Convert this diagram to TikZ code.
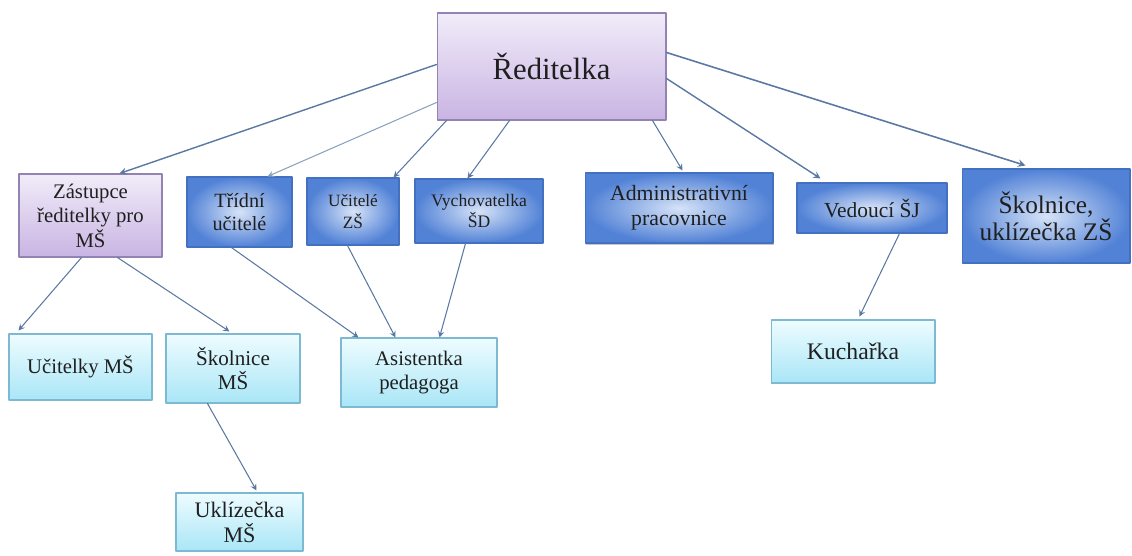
\documentclass[tikz,border=0pt]{standalone}
\usepackage{fontspec}
\setmainfont{Liberation Serif}
\usetikzlibrary{calc,shadows}
\definecolor{lila}{HTML}{C9B4E3}
\definecolor{lilatop}{HTML}{F1ECF9}
\definecolor{lilaline}{HTML}{9283B2}
\definecolor{modr}{HTML}{5282D6}
\definecolor{modrin}{HTML}{D6E3F8}
\definecolor{modrline}{HTML}{4470C2}
\definecolor{azur}{HTML}{A9E6F7}
\definecolor{azurtop}{HTML}{EEFCFF}
\definecolor{azurline}{HTML}{7DB9D0}
\definecolor{sipka}{HTML}{5A79A2}
\begin{document}
\begin{tikzpicture}[>=stealth,line join=round,line cap=round,x=0.02cm,y=-0.02cm,
	box/.style={draw,rectangle,align=center,inner sep=2pt,text=black!88,line width=.6pt},
	fial/.style={box,draw=lilaline,top color=lilatop,bottom color=lila},
	modr/.style={box,draw=modrline,inner color=modrin,outer color=modr},
	azur/.style={box,draw=azurline,top color=azurtop,bottom color=azur},
	spoj/.style={->,draw=sipka,line width=.6pt}
	]
	\useasboundingbox (0,0) rectangle (1132,555);
	% horni uroven
	\node[fial,minimum width=4.58cm,minimum height=2.14cm,font=\fontsize{17.5}{20}\selectfont] (red) at (551.5,66.5) {Ředitelka};
	% druha uroven
	\node[fial,minimum width=2.86cm,minimum height=1.66cm,font=\fontsize{11.8}{14}\selectfont] (zast) at (90.5,215.5) {Zástupce\\ředitelky pro\\MŠ};
	\node[modr,minimum width=2.10cm,minimum height=1.40cm,font=\fontsize{11.5}{13.5}\selectfont] (trid) at (239.5,212) {Třídní\\učitelé};
	\node[modr,minimum width=1.84cm,minimum height=1.34cm,font=\fontsize{9.8}{12.5}\selectfont] (ucit) at (353,211.5) {Učitelé\\ZŠ};
	\node[modr,minimum width=2.56cm,minimum height=1.28cm,font=\fontsize{10}{12.5}\selectfont] (vych) at (479,211) {Vychovatelka\\ŠD};
	\node[modr,minimum width=3.76cm,minimum height=1.40cm,font=\fontsize{12.4}{14.2}\selectfont,
		drop shadow={opacity=.45,shadow xshift=.4pt,shadow yshift=-1.3pt}] (admin) at (679,208) {Administrativní\\pracovnice};
	\node[modr,minimum width=3.00cm,minimum height=1.00cm,font=\fontsize{12.2}{14}\selectfont] (ved) at (872,208) {Vedoucí ŠJ};
	\node[modr,minimum width=3.36cm,minimum height=1.88cm,font=\fontsize{14.4}{15.6}\selectfont] (skzs) at (1046,216) {Školnice,\\uklízečka ZŠ};
	% treti uroven
	\node[azur,minimum width=2.86cm,minimum height=1.32cm,font=\fontsize{11.8}{14}\selectfont] (ucms) at (80.5,367) {Učitelky MŠ};
	\node[azur,minimum width=2.68cm,minimum height=1.38cm,font=\fontsize{12}{14}\selectfont] (skms) at (233,368.5) {Školnice\\MŠ};
	\node[azur,minimum width=3.12cm,minimum height=1.38cm,font=\fontsize{11.8}{14}\selectfont] (asist) at (419,372.5) {Asistentka\\pedagoga};
	\node[azur,minimum width=3.28cm,minimum height=1.26cm,font=\fontsize{13.5}{15}\selectfont] (kuch) at (853,351.5) {Kuchařka};
	\node[azur,minimum width=2.54cm,minimum height=1.16cm,font=\fontsize{12.6}{14.2}\selectfont] (ukl) at (239.5,522) {Uklízečka\\MŠ};
	% spojnice
	\draw[spoj,line width=.8pt] ($(red.north west)+(0,52)$) -- ($(zast.north west)+(101,0)$);
	\draw[spoj,draw=sipka!70] ($(red.north west)+(0,90)$) -- ($(trid.north west)+(81,0)$);
	\draw[spoj] ($(red.south west)+(10,0)$) -- ($(ucit.north east)+(-6,0)$);
	\draw[spoj] ($(red.south west)+(73,0)$) -- ($(vych.north west)+(53,0)$);
	\draw[spoj] ($(red.south east)+(-14,0)$) -- ($(admin.north west)+(98,-2)$);
	\draw[spoj,line width=.8pt] ($(red.north east)+(0,66)$) -- ($(ved.north west)+(24,-4)$);
	\draw[spoj,line width=.9pt] ($(red.north east)+(0,40)$) -- ($(skzs.north west)+(64,-3)$);
	\draw[spoj] ($(zast.south west)+(63,0)$) -- ($(ucms.north west)+(10,-3)$);
	\draw[spoj] ($(zast.south west)+(99,0)$) -- ($(skms.north west)+(64,-2)$);
	\draw[spoj] ($(trid.south west)+(45,0)$) -- ($(asist.north west)+(18,0)$);
	\draw[spoj] ($(ucit.south west)+(41,0)$) -- ($(asist.north west)+(55,0)$);
	\draw[spoj] ($(vych.south west)+(51,0)$) -- ($(asist.north west)+(99,0)$);
	\draw[spoj] ($(skms.south west)+(42,0)$) -- ($(ukl.north west)+(81,-2)$);
	\draw[spoj] ($(ved.south west)+(103,0)$) -- ($(kuch.north west)+(89,-3)$);
\end{tikzpicture}
\end{document}
